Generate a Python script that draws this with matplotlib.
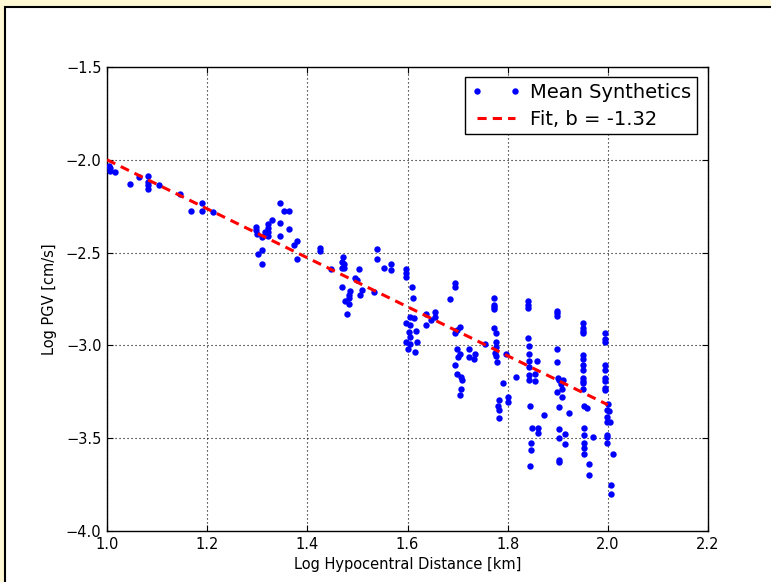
import numpy as np
import matplotlib
matplotlib.use("Agg")
import matplotlib.pyplot as plt
from matplotlib.patches import Rectangle

# Log10 hypocentral distance [km] and log10 peak ground velocity [cm/s]
log_dist = [
    1.003, 1.005, 1.005, 1.015, 1.045, 1.063, 1.082, 1.082, 1.082, 1.082,
    1.103, 1.146, 1.167, 1.189, 1.189, 1.211,
    1.298, 1.298, 1.299, 1.310, 1.302, 1.310, 1.309, 1.316, 1.322, 1.322,
    1.322, 1.322, 1.329, 1.346, 1.354, 1.364, 1.346, 1.346, 1.364, 1.379,
    1.374, 1.379,
    1.425, 1.425, 1.447, 1.472, 1.469, 1.474, 1.474, 1.469, 1.504, 1.495,
    1.499, 1.469, 1.485, 1.483, 1.483, 1.475, 1.484, 1.479, 1.510, 1.505,
    1.533, 1.540, 1.540, 1.553, 1.567, 1.567,
    1.597, 1.597, 1.597, 1.608, 1.610, 1.605, 1.612, 1.598, 1.605, 1.616,
    1.602, 1.604, 1.598, 1.618, 1.605, 1.600, 1.615,
    1.637, 1.637, 1.646, 1.654, 1.654, 1.684, 1.695, 1.695, 1.698, 1.704,
    1.695, 1.698, 1.704, 1.700, 1.695, 1.698, 1.706, 1.708, 1.706, 1.705,
    1.722, 1.722, 1.734, 1.733, 1.754,
    1.773, 1.773, 1.773, 1.773, 1.773, 1.776, 1.777, 1.776, 1.775, 1.777,
    1.779, 1.796, 1.791, 1.782, 1.781, 1.783, 1.782, 1.801, 1.801, 1.816,
    1.841, 1.841, 1.841, 1.841, 1.843, 1.842, 1.843, 1.843, 1.843, 1.843,
    1.858, 1.855, 1.855, 1.845, 1.873, 1.848, 1.861, 1.861, 1.847, 1.847,
    1.845,
    1.898, 1.898, 1.898, 1.899, 1.899, 1.900, 1.903, 1.911, 1.907, 1.899,
    1.909, 1.909, 1.902, 1.923, 1.902, 1.903, 1.914, 1.914, 1.903, 1.903,
    1.950, 1.950, 1.950, 1.950, 1.950, 1.951, 1.950, 1.950, 1.950, 1.951,
    1.950, 1.950, 1.953, 1.958, 1.953, 1.953, 1.953, 1.953, 1.953, 1.970,
    1.962, 1.962,
    1.995, 1.995, 1.995, 1.995, 1.995, 1.995, 1.995, 1.995, 1.995, 2.001,
    1.999, 2.002, 1.998, 1.999, 2.004, 1.998, 1.998, 1.999, 2.011, 2.006,
    2.006,
]
log_pgv = [
    -2.033, -2.046, -2.059, -2.064, -2.130, -2.094, -2.086, -2.118, -2.136, -2.156,
    -2.137, -2.186, -2.274, -2.234, -2.274, -2.281,
    -2.360, -2.378, -2.400, -2.418, -2.508, -2.484, -2.561, -2.389, -2.348, -2.367,
    -2.387, -2.409, -2.323, -2.231, -2.274, -2.274, -2.342, -2.411, -2.374, -2.436,
    -2.461, -2.533,
    -2.477, -2.491, -2.588, -2.525, -2.549, -2.563, -2.585, -2.585, -2.590, -2.635,
    -2.648, -2.684, -2.707, -2.728, -2.743, -2.761, -2.777, -2.832, -2.702, -2.728,
    -2.711, -2.482, -2.534, -2.581, -2.563, -2.594,
    -2.590, -2.612, -2.630, -2.687, -2.746, -2.845, -2.854, -2.878, -2.890, -2.921,
    -2.926, -2.953, -2.983, -2.980, -2.992, -3.021, -3.034,
    -2.831, -2.890, -2.863, -2.818, -2.849, -2.752, -2.662, -2.687, -2.917, -2.899,
    -2.935, -3.021, -3.046, -3.061, -3.106, -3.154, -3.169, -3.186, -3.235, -3.267,
    -3.021, -3.061, -3.048, -3.073, -2.992,
    -2.746, -2.782, -2.792, -2.804, -2.908, -2.935, -2.980, -3.010, -3.043, -3.057,
    -3.088, -3.046, -3.204, -3.294, -3.327, -3.348, -3.390, -3.280, -3.307, -3.169,
    -2.761, -2.782, -2.800, -2.962, -3.003, -3.048, -3.084, -3.118, -3.159, -3.186,
    -3.084, -3.156, -3.190, -3.327, -3.375, -3.447, -3.444, -3.470, -3.528, -3.564,
    -3.648,
    -2.813, -2.827, -2.840, -3.019, -3.091, -3.177, -3.186, -3.188, -3.210, -3.253,
    -3.235, -3.280, -3.332, -3.366, -3.452, -3.497, -3.479, -3.531, -3.617, -3.630,
    -2.878, -2.908, -2.922, -2.935, -3.052, -3.075, -3.106, -3.133, -3.177, -3.192,
    -3.204, -3.237, -3.327, -3.339, -3.443, -3.484, -3.524, -3.554, -3.585, -3.495,
    -3.641, -3.698,
    -2.932, -2.967, -2.980, -3.106, -3.133, -3.177, -3.192, -3.231, -3.240, -3.316,
    -3.348, -3.352, -3.384, -3.411, -3.411, -3.483, -3.495, -3.528, -3.585, -3.752,
    -3.801,
]

# Linear fit in log-log space: log PGV = a + b * log R
fit_slope = -1.32
fit_intercept = -0.68
fit_range = [1.0, 2.0]

x_ticks = [1.0, 1.2, 1.4, 1.6, 1.8, 2.0, 2.2]
y_ticks = [-4.0, -3.5, -3.0, -2.5, -2.0, -1.5]


def tick_text(v):
    return ("%.1f" % v).replace("-", "\u2212")


W, H, DPI = 771, 582, 100
fig = plt.figure(figsize=(W / DPI, H / DPI), dpi=DPI, facecolor="#fef8d4")

# White page panel with a dark border on its top and left edges
panel = Rectangle((5 / W, -0.1), 1.2, (H - 7) / H + 0.1, transform=fig.transFigure,
                  facecolor="white", edgecolor="black", linewidth=1.5, zorder=0)
fig.add_artist(panel)

ax = fig.add_axes([107 / W, (H - 531) / H, 601 / W, 464 / H])
ax.set_facecolor("white")

ax.plot(log_dist, log_pgv, linestyle="none", marker="o", color="#0000ff",
        markersize=4.6, markeredgewidth=0, label="Mean Synthetics", zorder=3)

fx = np.linspace(fit_range[0], fit_range[1], 50)
ax.plot(fx, fit_intercept + fit_slope * fx, color="#ff0000", linestyle=(0, (3.0, 2.0)),
        linewidth=2.2, label="Fit, b = %.2f" % fit_slope, zorder=4)

ax.set_xlim(1.0, 2.2)
ax.set_ylim(-4.0, -1.5)
ax.set_xticks(x_ticks)
ax.set_yticks(y_ticks)
ax.set_xticklabels([tick_text(v) for v in x_ticks])
ax.set_yticklabels([tick_text(v) for v in y_ticks])
ax.grid(True, color="black", linestyle=(0, (1, 2.6)), linewidth=0.8)
ax.tick_params(direction="in", top=True, right=True, length=4, width=0.8,
               labelsize=10.5, pad=4)
for s in ax.spines.values():
    s.set_linewidth(1.0)

ax.set_xlabel("Log Hypocentral Distance [km]", fontsize=10.5, labelpad=4)
ax.set_ylabel("Log PGV [cm/s]", fontsize=10.5, labelpad=6)

leg = ax.legend(loc="upper right", bbox_to_anchor=(0.9817, 0.9784), borderaxespad=0,
                numpoints=2, fontsize=14, fancybox=False, framealpha=1,
                edgecolor="black", handlelength=2.6, handletextpad=0.45,
                borderpad=0.3, labelspacing=0.4)
leg.get_frame().set_linewidth(1.0)

fig.savefig("out.png", dpi=DPI, facecolor=fig.get_facecolor())
